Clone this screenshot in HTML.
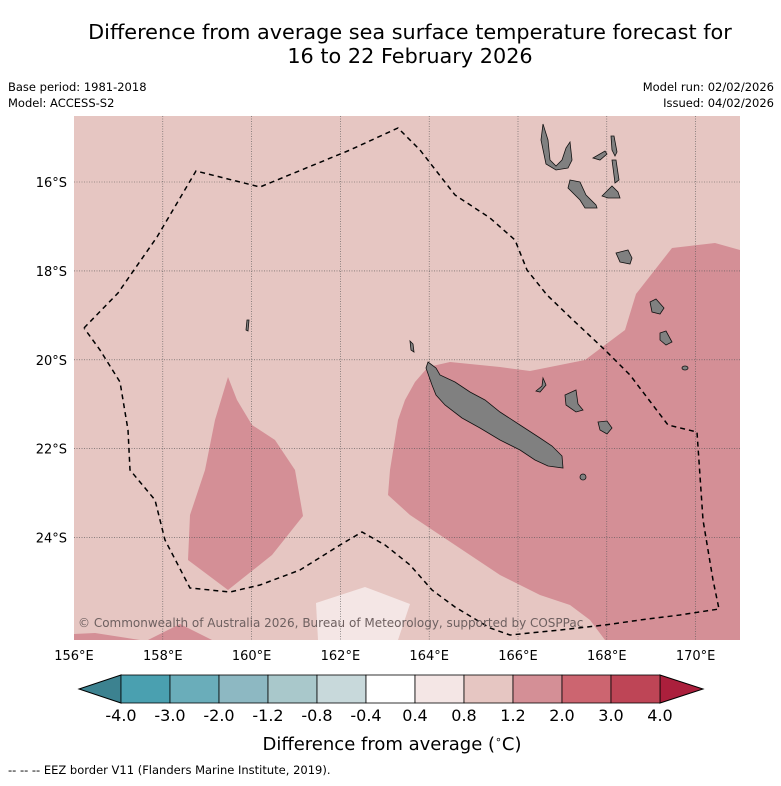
<!DOCTYPE html>
<html><head><meta charset="utf-8"><style>
body{margin:0;background:#fff;width:781px;height:781px;overflow:hidden;font-family:"Liberation Sans","DejaVu Sans",sans-serif}
svg text{font-family:"DejaVu Sans","Liberation Sans",sans-serif}
</style></head><body>
<svg width="781" height="781" viewBox="0 0 781 781">
<text x="410" y="39" font-size="20.8" text-anchor="middle">Difference from average sea surface temperature forecast for</text>
<text x="410" y="63" font-size="20.8" text-anchor="middle">16 to 22 February 2026</text>
<text x="8" y="91" font-size="11.5">Base period: 1981-2018</text>
<text x="8" y="107" font-size="11.5">Model: ACCESS-S2</text>
<text x="774" y="91" font-size="11.5" text-anchor="end">Model run: 02/02/2026</text>
<text x="774" y="107" font-size="11.5" text-anchor="end">Issued: 04/02/2026</text>
<g id="map">
<defs><clipPath id="mc"><rect x="74" y="116" width="666" height="524"/></clipPath></defs>
<g clip-path="url(#mc)">
<rect x="74" y="116" width="666" height="524" fill="#e6c6c2"/>
<polygon fill="#d48f96" points="740,250 715,243 672,248 636,294 625,330 605,345 585,360 545,368 530,371 500,367 470,364 450,362 428,367 415,382 405,400 398,420 390,470 388,495 410,515 440,535 470,555 500,575 540,595 570,605 590,620 605,640 740,640"/>
<polygon fill="#d48f96" points="228,377 215,420 205,470 190,515 188,560 228,590 272,555 303,516 295,470 275,440 252,425 237,400"/>
<polygon fill="#d48f96" points="74,634 95,633 140,640 74,640"/>
<polygon fill="#d48f96" points="148,640 180,624 212,640"/>
<polygon fill="#f4e6e5" points="316,603 365,587 410,604 398,640 318,640"/>
<g id="grid" stroke="#555" stroke-width="0.6" stroke-dasharray="1,1.5"></g>
<g fill="#808080" stroke="#111" stroke-width="0.8">
<polygon points="428,362 436,368 440,375 455,382 470,392 485,400 500,412 520,425 540,438 552,446 562,456 563,468 548,466 535,460 520,450 500,440 480,428 462,418 445,405 436,395 432,385 426,368"/>
<polygon points="543,124 548,140 550,160 556,166 562,160 566,148 570,142 572,160 568,168 556,170 546,164 541,140"/>
<polygon points="570,180 580,182 586,195 596,205 597,208 585,208 580,200 568,188"/>
<polygon points="602,196 612,186 618,192 620,198 608,198"/>
<polygon points="616,253 628,250 632,258 630,264 620,262"/>
<polygon points="611,136 614,136 617,152 615,156 612,150"/>
<polygon points="612,160 616,160 619,180 615,183"/>
<polygon points="593,158 605,151 607,154 600,160"/>
<polygon points="565,395 576,390 578,404 583,410 576,412 566,405"/>
<polygon points="598,422 607,421 612,428 607,434 600,430"/>
<polygon points="650,302 656,299 664,308 660,314 652,312"/>
<polygon points="660,333 666,331 672,342 666,345 660,340"/>
<ellipse cx="685" cy="368" rx="3" ry="2"/>
<ellipse cx="583" cy="477" rx="3" ry="3"/>
<polygon points="543,378 546,385 540,392 536,391 542,386"/>
<polygon points="247,320 249,320 248,331 246,330"/>
<polygon points="410,341 413,344 414,352 411,350"/>
</g>
<polyline fill="none" stroke="#000" stroke-width="1.5" stroke-dasharray="5,4" points="84,328 118,293 157,237 196,171 260,187 350,150 398,128 420,150 455,195 490,218 515,240 527,270 547,295 573,320 605,350 630,375 668,425 697,432 703,520 713,580 719,609 680,615 640,620 605,625 560,630 510,635 490,628 455,607 432,590 410,565 385,545 362,532 340,545 300,570 260,585 230,592 190,588 165,540 155,500 130,470 128,430 120,382 100,350 84,328"/>
<text x="78" y="627" font-size="12" fill="#6e6060">© Commonwealth of Australia 2026, Bureau of Meteorology, supported by COSPPac</text>
</g>
<g id="xt" font-size="13" text-anchor="middle"></g>
<g id="yt" font-size="13" text-anchor="end"></g>
</g>
<g id="cb"></g>
<text x="392" y="750" font-size="18" text-anchor="middle">Difference from average (<tspan font-size="11" dy="-7">∘</tspan><tspan dy="7">C)</tspan></text>
<text x="8" y="774" font-size="11.5">--  --  -- EEZ border V11 (Flanders Marine Institute, 2019).</text>
</svg>
<script>
const lonTicks=[156,158,160,162,164,166,168,170];
const latTicks=[16,18,20,22,24];
const cbBounds=["-4.0","-3.0","-2.0","-1.2","-0.8","-0.4","0.4","0.8","1.2","2.0","3.0","4.0"];
const cbColors=["#4aa0b0","#6aadba","#8db8c2","#a9c8cb","#c8d9db","#ffffff","#f4e6e5","#e6c6c2","#d48f96","#cc6570","#be4556"];
const ns="http://www.w3.org/2000/svg";
const lonX=l=>74+(l-156)*44.4;
const latY=l=>182+(l-16)*44.45;
const grid=document.getElementById('grid'),xt=document.getElementById('xt'),yt=document.getElementById('yt');
lonTicks.forEach(l=>{
 if(l>156){const g=document.createElementNS(ns,'line');g.setAttribute('x1',lonX(l));g.setAttribute('x2',lonX(l));g.setAttribute('y1',116);g.setAttribute('y2',640);
 
 grid.appendChild(g);}
 const t=document.createElementNS(ns,'text');t.setAttribute('x',lonX(l));t.setAttribute('y',660);t.textContent=l+'°E';
 
 xt.appendChild(t);
});
latTicks.forEach(l=>{
 const g=document.createElementNS(ns,'line');g.setAttribute('x1',74);g.setAttribute('x2',740);g.setAttribute('y1',latY(l));g.setAttribute('y2',latY(l));
 
 grid.appendChild(g);
 const t=document.createElementNS(ns,'text');t.setAttribute('x',67);t.setAttribute('y',latY(l)+5);t.textContent=l+'°S';
 
 yt.appendChild(t);
});
const cb=document.getElementById('cb');
const x0=121,w=49,y0=675,h=28;
const la=document.createElementNS(ns,'polygon');la.setAttribute('points',`${x0},${y0} 79,${y0+h/2} ${x0},${y0+h}`);la.setAttribute('fill','#3c8290');la.setAttribute('stroke','#000');

cb.appendChild(la);
const xe=x0+w*cbColors.length;
const ra=document.createElementNS(ns,'polygon');ra.setAttribute('points',`${xe},${y0} 703,${y0+h/2} ${xe},${y0+h}`);ra.setAttribute('fill','#ab1f3c');ra.setAttribute('stroke','#000');

cb.appendChild(ra);
cbColors.forEach((c,i)=>{const r=document.createElementNS(ns,'rect');r.setAttribute('x',x0+i*w);r.setAttribute('y',y0);r.setAttribute('width',w);r.setAttribute('height',h);r.setAttribute('fill',c);r.setAttribute('stroke','#000');r.setAttribute('stroke-width','0.8');
 
 cb.appendChild(r);});
cbBounds.forEach((b,i)=>{const t=document.createElementNS(ns,'text');t.setAttribute('x',x0+i*w);t.setAttribute('y',721);t.setAttribute('font-size','16');t.setAttribute('text-anchor','middle');t.textContent=b;
 
 cb.appendChild(t);});
</script>
</body></html>
